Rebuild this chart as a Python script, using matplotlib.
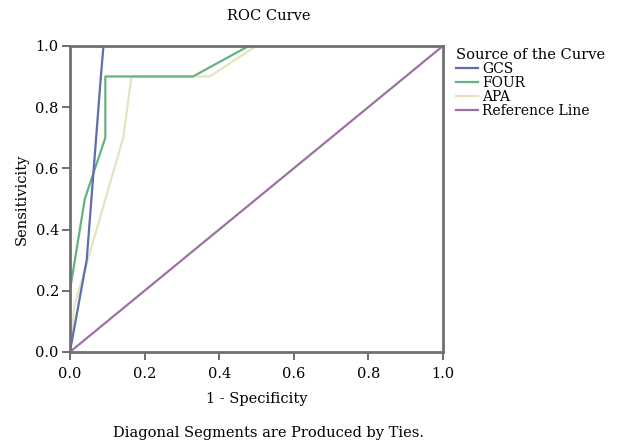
import matplotlib
matplotlib.use("Agg")
from matplotlib import pyplot as plt

plt.rcParams['font.family'] = ['DejaVu Serif']

# ROC points (1 - specificity, sensitivity)
gcs_x = [0.0, 0.045, 0.083, 0.09, 1.0]
gcs_y = [0.0, 0.30, 0.90, 1.0, 1.0]

four_x = [0.0, 0.0, 0.04, 0.095, 0.095, 0.33, 0.48, 1.0]
four_y = [0.0, 0.20, 0.50, 0.70, 0.90, 0.90, 1.0, 1.0]

apa_x = [0.0, 0.012, 0.143, 0.165, 0.375, 0.50, 1.0]
apa_y = [0.0, 0.15, 0.70, 0.90, 0.90, 1.0, 1.0]

ref_x = [0.0, 1.0]
ref_y = [0.0, 1.0]

ticks = [0.0, 0.2, 0.4, 0.6, 0.8, 1.0]
tick_labels = ['0.0', '0.2', '0.4', '0.6', '0.8', '1.0']

fig = plt.figure(figsize=(6.24, 4.45), dpi=100)
ax = fig.add_axes([0.112, 0.209, 0.598, 0.688])

# lines sit under the spines so the parts running along the top are hidden
ax.plot(ref_x, ref_y, color='#9c72a2', lw=1.6, label='Reference Line', zorder=2)
ax.plot(apa_x, apa_y, color='#e6e4bf', lw=1.6, label='APA', zorder=2)
ax.plot(four_x, four_y, color='#62b37f', lw=1.6, label='FOUR', zorder=2)
ax.plot(gcs_x, gcs_y, color='#5f6db0', lw=1.6, label='GCS', zorder=2)

ax.set_xlim(0, 1)
ax.set_ylim(0, 1)
ax.set_xticks(ticks)
ax.set_xticklabels(tick_labels)
ax.set_yticks(ticks)
ax.set_yticklabels(tick_labels)
ax.tick_params(direction='out', length=6, width=1.2, color='#555555',
               labelsize=10.5, pad=2)
ax.tick_params(axis='x', pad=5)
for s in ax.spines.values():
    s.set_color('#707070')
    s.set_linewidth(2)
    s.set_zorder(3)

ax.set_xlabel('1 - Specificity', fontsize=10.5, labelpad=8)
ax.set_ylabel('Sensitivicity', fontsize=10.5, labelpad=5)

fig.text(0.43, 0.965, 'ROC Curve', ha='center', va='center', fontsize=10.5)
fig.text(0.43, 0.028, 'Diagonal Segments are Produced by Ties.',
         ha='center', va='center', fontsize=10.5)

handles, labels = ax.get_legend_handles_labels()
order = [3, 2, 1, 0]
leg = fig.legend([handles[i] for i in order], [labels[i] for i in order],
                 title='Source of the Curve', loc='upper left',
                 bbox_to_anchor=(0.715, 0.915), frameon=False, fontsize=10,
                 title_fontsize=10.5, labelspacing=0.0, handlelength=1.6,
                 handletextpad=0.3, borderpad=0.2)
leg._legend_box.align = 'left'

fig.savefig('out.png', dpi=100)
